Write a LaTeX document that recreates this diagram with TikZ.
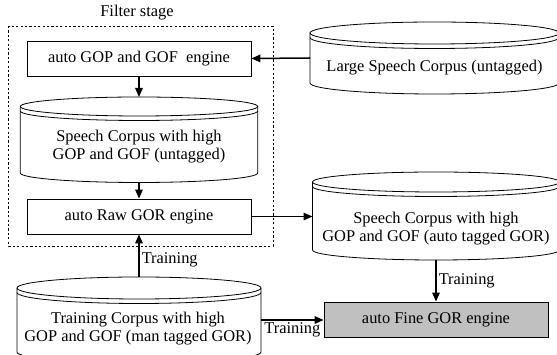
\documentclass[tikz,border=0pt]{standalone}
\usepackage{fontspec}
\setmainfont{Liberation Serif}
\usetikzlibrary{arrows.meta}
\tikzset{
  box/.style={draw, line width=0.8pt, minimum width=224pt, minimum height=35pt, inner sep=0pt},
  finebox/.style={box, fill={rgb,255:red,192;green,192;blue,192}},
  body/.style={inner sep=0pt, outer sep=0pt},
  cyltext/.style={align=center, inner sep=0pt},
  cylline/.style={line width=0.8pt},
  arr/.style={line width=1.5pt, -{Triangle[length=9pt,width=7.5pt]}},
  lbl/.style={inner sep=2pt},
  filterbox/.style={line width=0.7pt, dash pattern=on 2.2pt off 2.2pt}
}
% #1 name, #2 cx, #3 y ellipse centre, #4 y sides bottom, #5 half width, #6 ry
\newcommand\mycyl[6]{%
  \node[body, minimum width=2*#5 pt, minimum height=(#3-#4)*1pt] (#1) at (#2,{(#3+#4)/2}) {};
  \draw[cylline] (#2,#3) ellipse[x radius=#5, y radius=#6];
  \draw[cylline] (#2-#5,#3-4.5) arc[start angle=180, end angle=360, x radius=#5, y radius=#6];
  \draw[cylline] (#1.north west) -- (#1.south west) arc[start angle=180, end angle=360, x radius=#5, y radius=#6] -- (#1.north east);
  \coordinate (#1-top) at (#2,#3+#6);
  \coordinate (#1-bot) at (#2,#4-#6);
}
\begin{document}
\begin{tikzpicture}[x=1pt,y=1pt,font=\fontsize{16.4}{18}\selectfont]
\useasboundingbox (0,0) rectangle (557,355);
\clip (0,0) rectangle (557,355);
% filter stage
\draw[filterbox] (8.5,329) rectangle (273,109);
\node[lbl] (flt) at (137,342) {Filter stage};
% boxes
\node[box] (gop) at (139,296.5) {auto GOP and GOF\ \ engine};
\node[box] (raw) at (139,138.5) {auto Raw GOR engine};
\node[finebox] (fine) at (436,35.5) {auto Fine GOR engine};
% cylinders
\mycyl{sc}{139}{248.5}{182}{118.7}{9.5}
\node[cyltext] (sc-text) at (139,208.5) {Speech Corpus with high\\GOP and GOF (untagged)};
\mycyl{lsc}{434.5}{322}{272}{124.5}{11}
\node[cyltext] (lsc-text) at (434.5,287) {Large Speech Corpus (untagged)};
\mycyl{asc}{436}{173}{105}{123.5}{10}
\node[cyltext] (asc-text) at (436,126) {Speech Corpus with high\\GOP and GOF (auto tagged GOR)};
\mycyl{tsc}{139}{67}{3}{122}{11}
\node[cyltext] (tsc-text) at (138,26.5) {Training Corpus with high\\GOP and GOF (man tagged GOR)};
% connectors
\draw[arr] (lsc.west) -- (gop.east);
\draw[arr] (gop.south) -- (sc-top);
\draw[arr] (sc-bot) -- (raw.north);
\draw[arr] (raw.east) -- (raw.east -| asc.west);
\draw[arr] (asc-bot) -- (fine.north) node[midway, right, lbl] {Training};
\draw[arr] (tsc-top) -- (raw.south) node[pos=0.4, right, lbl] {Training};
\draw[arr] (tsc.east) -- (tsc.east -| fine.west) node[pos=0.5, below, lbl] {Training};
\end{tikzpicture}
\end{document}
